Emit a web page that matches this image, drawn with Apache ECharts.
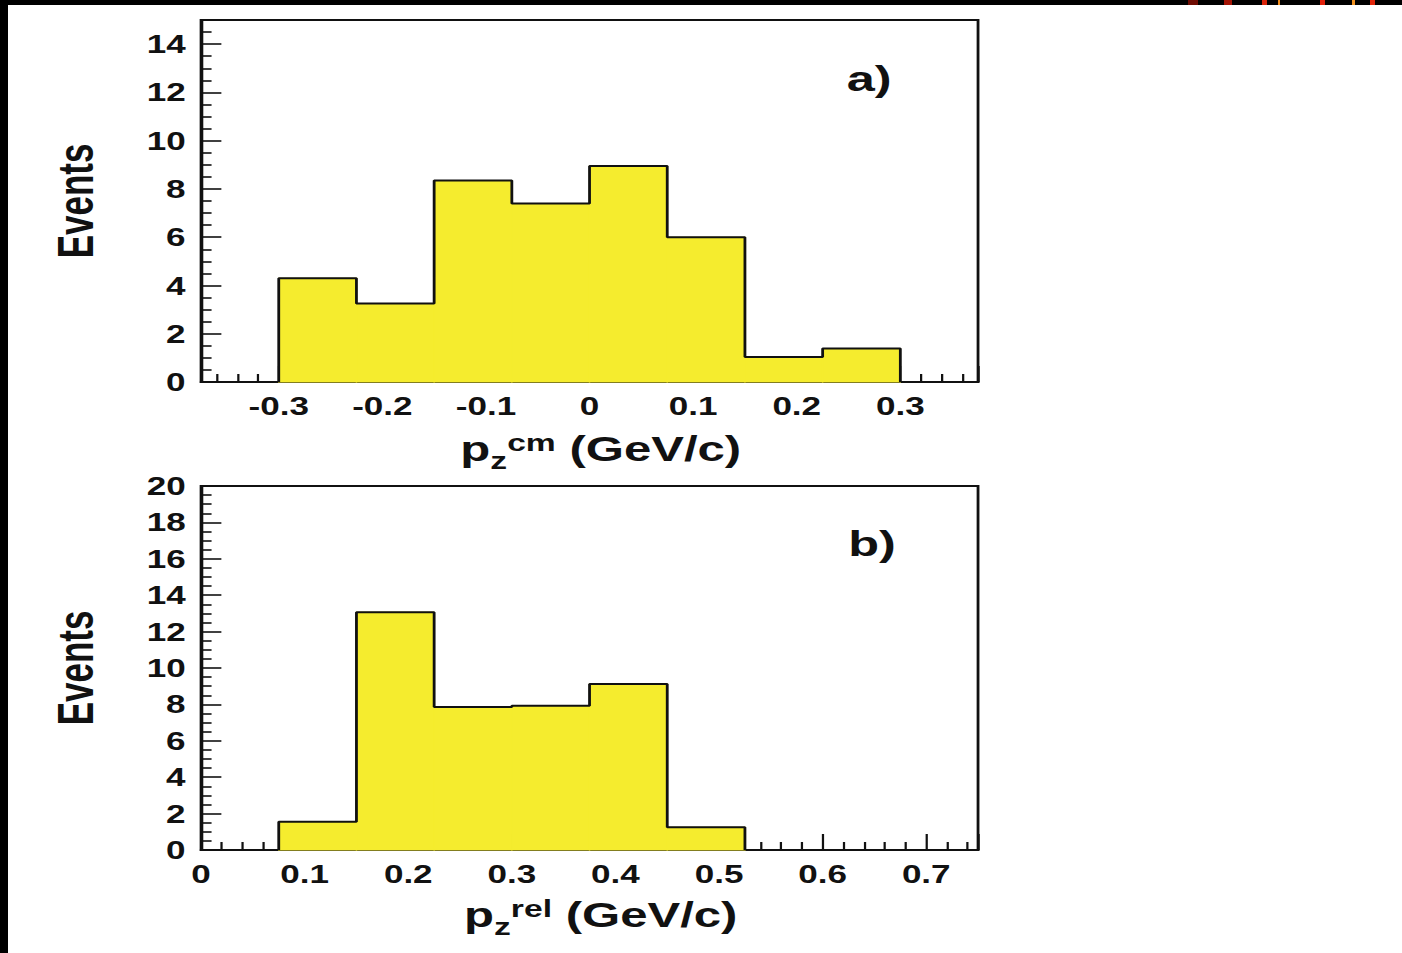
<!DOCTYPE html>
<html>
<head>
<meta charset="utf-8">
<title>Events vs pz</title>
<script src="https://cdn.jsdelivr.net/npm/echarts@6/dist/echarts.min.js"></script>
<style>
  html, body { margin: 0; padding: 0; background: #fff; overflow: hidden; }
  #wrap { position: absolute; left: 0; top: 0; width: 1000px; height: 953px;
          transform: scaleX(1.402); transform-origin: 0 0; }
  #main { width: 1000px; height: 953px; }
  .bar { position: absolute; background: #000; }
  .mark { position: absolute; top: 0; height: 5px; }
</style>
</head>
<body>
<div id="wrap"><div id="main"></div></div>
<div class="bar" style="left:0;top:0;width:8px;height:953px"></div>
<div class="bar" style="left:0;top:0;width:1402px;height:5px"></div>
<div class="mark" style="left:1188px;width:10px;background:#6e0c02"></div>
<div class="mark" style="left:1224px;width:8px;background:#a31405"></div>
<div class="mark" style="left:1262px;width:5px;background:#d9250a"></div>
<div class="mark" style="left:1278px;width:2px;background:#f08a1a"></div>
<div class="mark" style="left:1320px;width:5px;background:#e0200a"></div>
<div class="mark" style="left:1352px;width:3px;background:#f0901e"></div>
<div class="mark" style="left:1370px;width:5px;background:#e0250a"></div>
<script>
// histogram a): bin edges and contents
var cmEdges  = [-0.3, -0.225, -0.15, -0.075, 0, 0.075, 0.15, 0.225, 0.3];
var cmCounts = [4.3, 3.25, 8.35, 7.4, 8.95, 6.0, 1.04, 1.39];
// histogram b)
var relEdges  = [0.075, 0.15, 0.225, 0.3, 0.375, 0.45, 0.525];
var relCounts = [1.55, 13.07, 7.86, 7.93, 9.12, 1.25];
// axis ranges
var cmRange  = [-0.375, 0.375];
var relRange = [0, 0.75];
var cmYMax = 15;
var relYMax = 20;
var panelLabels = ['a)', 'b)'];
var yName = 'Events';

var ink = '#111';
var fill = '#f5ec2e';
var font = 'Liberation Sans';

var myChart = echarts.init(document.getElementById('main'), null, {renderer: 'svg'});

// yellow boxes, one per bin
function binData(edges, counts) {
    var out = [];
    for (var i = 0; i < counts.length; i++) {
        out.push([edges[i], edges[i + 1], counts[i]]);
    }
    return out;
}
// stepped outline of the histogram
function outline(edges, counts) {
    var pts = [[edges[0], 0]];
    for (var i = 0; i < counts.length; i++) {
        pts.push([edges[i], counts[i]]);
        pts.push([edges[i + 1], counts[i]]);
    }
    pts.push([edges[edges.length - 1], 0]);
    return pts;
}
function renderBin(params, api) {
    var p0 = api.coord([api.value(0), api.value(2)]);
    var p1 = api.coord([api.value(1), 0]);
    return {
        type: 'rect',
        shape: {x: p0[0], y: p0[1], width: p1[0] - p0[0], height: p1[1] - p0[1]},
        style: {fill: fill, stroke: fill, lineWidth: 1}
    };
}

function xAxisOpt(idx, range, sup, gap) {
    return {
        type: 'value', gridIndex: idx,
        min: range[0], max: range[1],
        minInterval: 0.1, maxInterval: 0.1, splitNumber: 8,
        name: '{m|p}{sub|z}{sup|' + sup + '}{m| (GeV/c)}',
        nameLocation: 'middle', nameGap: gap,
        nameTextStyle: {
            lineHeight: 48, padding: [0, 0, 0, 16],
            rich: {
                m: {fontFamily: font, fontWeight: 'bold', fontSize: 35, color: ink, lineHeight: 48},
                sub: {fontFamily: font, fontWeight: 'bold', fontSize: 24, color: ink, lineHeight: 48, verticalAlign: 'bottom'},
                sup: {fontFamily: font, fontWeight: 'bold', fontSize: 24, color: ink, lineHeight: 48, height: 36, verticalAlign: 'top'}
            }
        },
        axisLine: {show: true, onZero: false, lineStyle: {color: ink, width: 2}},
        axisTick: {show: true, inside: true, length: 16, lineStyle: {color: ink, width: 1.6}},
        minorTick: {show: true, splitNumber: 5, length: 8, lineStyle: {color: ink, width: 1.6}},
        axisLabel: {
            margin: 11, showMinLabel: range[0] === 0, showMaxLabel: false,
            fontFamily: font, fontWeight: 'bold', fontSize: 25, color: ink
        },
        splitLine: {show: false}
    };
}
function yAxisOpt(idx, ymax) {
    return {
        type: 'value', gridIndex: idx,
        min: 0, max: ymax, interval: 2,
        name: yName, nameLocation: 'middle', nameRotate: 90, nameGap: 72,
        nameTextStyle: {fontFamily: font, fontWeight: 'bold', fontSize: 35, color: ink},
        axisLine: {show: true, onZero: false, lineStyle: {color: ink, width: 2}},
        axisTick: {show: true, inside: true, length: 14.5, lineStyle: {color: ink, width: 1.6}},
        minorTick: {show: true, splitNumber: 4, length: 7.5, lineStyle: {color: ink, width: 1.6}},
        axisLabel: {
            margin: 11, showMaxLabel: ymax % 2 === 0,
            fontFamily: font, fontWeight: 'bold', fontSize: 25, color: ink
        },
        splitLine: {show: false}
    };
}

var option = {
    backgroundColor: '#fff',
    animation: false,
    grid: [
        {left: 143.4, top: 20, width: 554.2, height: 362, show: true,
         borderColor: ink, borderWidth: 2, backgroundColor: '#fff', outerBoundsMode: 'none'},
        {left: 143.4, top: 486, width: 554.2, height: 364, show: true,
         borderColor: ink, borderWidth: 2, backgroundColor: '#fff', outerBoundsMode: 'none'}
    ],
    xAxis: [xAxisOpt(0, cmRange, 'cm', 43), xAxisOpt(1, relRange, 'rel', 41)],
    yAxis: [yAxisOpt(0, cmYMax), yAxisOpt(1, relYMax)],
    graphic: [
        {type: 'text', left: 604, top: 60, z: 10,
         style: {text: panelLabels[0], fontFamily: font, fontWeight: 'bold', fontSize: 36, fill: ink}},
        {type: 'text', left: 605, top: 525, z: 10,
         style: {text: panelLabels[1], fontFamily: font, fontWeight: 'bold', fontSize: 36, fill: ink}}
    ],
    series: [
        {type: 'custom', xAxisIndex: 0, yAxisIndex: 0, renderItem: renderBin,
         encode: {x: [0, 1], y: 2}, data: binData(cmEdges, cmCounts), z: 1},
        {type: 'line', xAxisIndex: 0, yAxisIndex: 0, data: outline(cmEdges, cmCounts),
         showSymbol: false, lineStyle: {color: ink, width: 2}, z: 2},
        {type: 'custom', xAxisIndex: 1, yAxisIndex: 1, renderItem: renderBin,
         encode: {x: [0, 1], y: 2}, data: binData(relEdges, relCounts), z: 1},
        {type: 'line', xAxisIndex: 1, yAxisIndex: 1, data: outline(relEdges, relCounts),
         showSymbol: false, lineStyle: {color: ink, width: 2}, z: 2}
    ]
};

myChart.setOption(option);
</script>
</body>
</html>
